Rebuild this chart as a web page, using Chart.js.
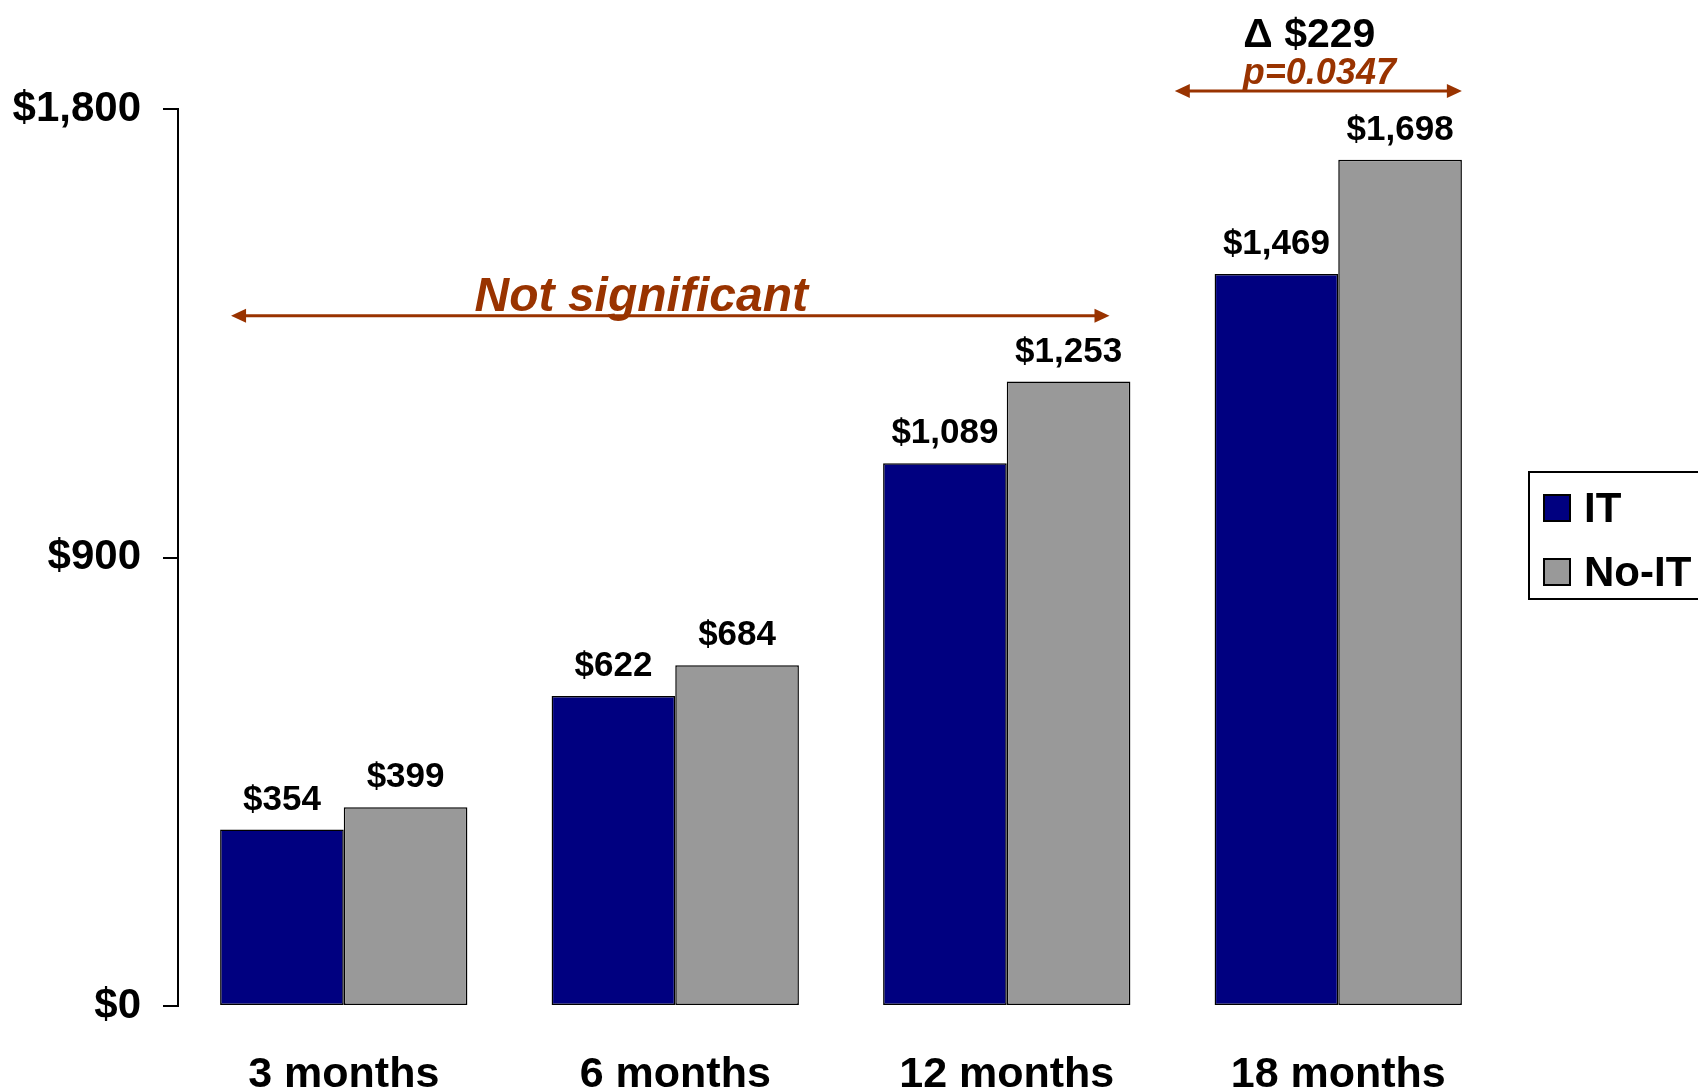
<!DOCTYPE html>
<html>
<head>
<meta charset="utf-8">
<script src="https://cdn.jsdelivr.net/npm/chart.js@4"></script>
<style>
  html, body { margin: 0; padding: 0; background: #fff; }
  #wrap { width: 1698px; height: 1089px; }
</style>
</head>
<body>
<div id="wrap"><canvas id="costChart" width="1698" height="1089"></canvas></div>
<script>
const periods = ['3 months', '6 months', '12 months', '18 months'];
const itCost = [354, 622, 1089, 1469];
const noItCost = [399, 684, 1253, 1698];
const yTicks = [0, 900, 1800];
const seriesNames = ['IT', 'No-IT'];
const seriesColors = ['#000080', '#999999'];

const FONT = '"Liberation Sans", Arial, sans-serif';
const RUST = '#993300';

function money(v) {
    return '$' + v.toLocaleString('en-US');
}

function arrow(ctx, x1, x2, y) {
    const head = 15, half = 7;
    ctx.save();
    ctx.strokeStyle = RUST;
    ctx.fillStyle = RUST;
    ctx.lineWidth = 3;
    ctx.beginPath();
    ctx.moveTo(x1 + head - 2, y);
    ctx.lineTo(x2 - head + 2, y);
    ctx.stroke();
    ctx.beginPath();
    ctx.moveTo(x1, y);
    ctx.lineTo(x1 + head, y - half);
    ctx.lineTo(x1 + head, y + half);
    ctx.closePath();
    ctx.fill();
    ctx.beginPath();
    ctx.moveTo(x2, y);
    ctx.lineTo(x2 - head, y - half);
    ctx.lineTo(x2 - head, y + half);
    ctx.closePath();
    ctx.fill();
    ctx.restore();
}

// value labels above the bars
const barLabels = {
    id: 'barLabels',
    afterDatasetsDraw(chart) {
        const ctx = chart.ctx;
        ctx.save();
        ctx.font = 'bold 35px ' + FONT;
        ctx.fillStyle = '#000';
        ctx.textAlign = 'center';
        ctx.textBaseline = 'alphabetic';
        chart.data.datasets.forEach((ds, i) => {
            chart.getDatasetMeta(i).data.forEach((bar, j) => {
                ctx.fillText(money(ds.data[j]), bar.x, bar.y - 20);
            });
        });
        ctx.restore();
    }
};

// significance arrows and notes
const notes = {
    id: 'notes',
    afterDraw(chart) {
        const ctx = chart.ctx;
        const xs = chart.scales.x;
        const ys = chart.scales.y;

        const y1 = ys.getPixelForValue(1385);
        const a1 = xs.getPixelForValue(-0.34);
        const b1 = xs.getPixelForValue(2.31);
        arrow(ctx, a1, b1, y1);
        ctx.save();
        ctx.fillStyle = RUST;
        ctx.textAlign = 'center';
        ctx.font = 'italic bold 48px ' + FONT;
        ctx.fillText('Not significant', (a1 + b1) / 2 - 29, y1 - 5);
        ctx.restore();

        const y2 = ys.getPixelForValue(1836);
        const a2 = xs.getPixelForValue(2.507);
        const b2 = xs.getPixelForValue(3.373);
        arrow(ctx, a2, b2, y2);
        ctx.save();
        ctx.textAlign = 'center';
        ctx.fillStyle = RUST;
        ctx.font = 'italic bold 36px ' + FONT;
        ctx.fillText('p=0.0347', (a2 + b2) / 2 + 1, y2 - 7);
        ctx.fillStyle = '#000';
        ctx.font = 'bold 41px ' + FONT;
        ctx.fillText('\u0394 $229', (a2 + b2) / 2 - 9, y2 - 44);
        ctx.restore();
    }
};

// boxed legend at the right edge
const boxLegend = {
    id: 'boxLegend',
    afterDraw(chart) {
        const ctx = chart.ctx;
        const left = chart.chartArea.right + 25;
        const top = 472;
        ctx.save();
        ctx.lineWidth = 2;
        ctx.strokeStyle = '#000';
        ctx.strokeRect(left, top, 200, 127);
        ctx.font = 'bold 42px ' + FONT;
        ctx.textBaseline = 'middle';
        chart.data.datasets.forEach((ds, i) => {
            const cy = top + 36 + i * 64;
            ctx.fillStyle = ds.backgroundColor;
            ctx.fillRect(left + 15, cy - 13, 26, 26);
            ctx.strokeRect(left + 15, cy - 13, 26, 26);
            ctx.fillStyle = '#000';
            ctx.fillText(ds.label, left + 55, cy + 2);
        });
        ctx.restore();
    }
};

const ctx = document.getElementById('costChart').getContext('2d');

new Chart(ctx, {
    type: 'bar',
    data: {
        labels: periods,
        datasets: [
            {
                label: seriesNames[0],
                data: itCost,
                backgroundColor: seriesColors[0],
                borderColor: '#000',
                borderWidth: 1.5,
                borderSkipped: false
            },
            {
                label: seriesNames[1],
                data: noItCost,
                backgroundColor: seriesColors[1],
                borderColor: '#000',
                borderWidth: 1.5,
                borderSkipped: false
            }
        ]
    },
    options: {
        responsive: false,
        animation: false,
        categoryPercentage: 0.746,
        barPercentage: 1,
        layout: { padding: { top: 109, right: 194, left: 0, bottom: 0 } },
        plugins: {
            legend: { display: false },
            tooltip: { enabled: false }
        },
        scales: {
            x: {
                grid: { display: false, drawTicks: false },
                border: { display: false },
                ticks: {
                    color: '#000',
                    padding: 43,
                    font: { family: FONT, size: 43, weight: 'bold' }
                },
                afterFit(scale) { scale.height = 83; }
            },
            y: {
                min: 0,
                max: 1800,
                afterBuildTicks(scale) {
                    scale.ticks = yTicks.map(v => ({ value: v }));
                },
                grid: { drawOnChartArea: false, drawTicks: true, tickLength: 15, color: '#000', lineWidth: 2 },
                border: { display: true, color: '#000', width: 2 },
                ticks: {
                    color: '#000',
                    padding: 22,
                    font: { family: FONT, size: 42, weight: 'bold' },
                    callback: v => money(v)
                },
                afterFit(scale) { scale.width = 178; }
            }
        }
    },
    plugins: [barLabels, notes, boxLegend]
});
</script>
</body>
</html>
